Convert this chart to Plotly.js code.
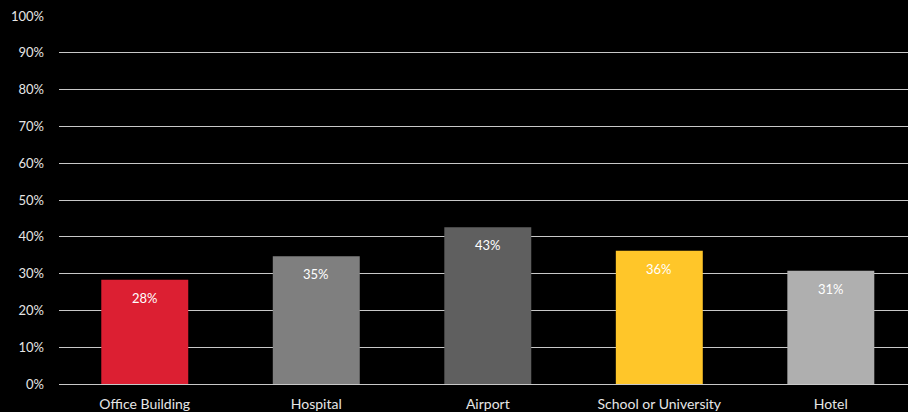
<!DOCTYPE html>
<html>
<head>
<meta charset="utf-8">
<script src="https://cdn.plot.ly/plotly-3.0.1.min.js"></script>
<style>html,body{margin:0;padding:0;background:#000;}#chart{width:908px;height:412px;}</style>
</head>
<body>
<div id="chart"></div>
<script>
const categories = ["Office Building", "Hospital", "Airport", "School or University", "Hotel"];
const values = [0.283, 0.347, 0.426, 0.362, 0.308];
const valueLabels = ["28%", "35%", "43%", "36%", "31%"];
const barColors = ["#DC1F32", "#7F7F7F", "#5F5F5F", "#FFC629", "#AFAFAF"];
const yTickVals = [0, 0.1, 0.2, 0.3, 0.4, 0.5, 0.6, 0.7, 0.8, 0.9, 1.0];
const yTickText = ["0%", "10%", "20%", "30%", "40%", "50%", "60%", "70%", "80%", "90%", "100%"];

const trace = {
  type: "bar",
  x: categories,
  y: values,
  width: 0.507,
  marker: { color: barColors },
  hoverinfo: "none"
};

const annotations = categories.map((c, i) => ({
  x: c, y: values[i], xref: "x", yref: "y",
  text: valueLabels[i],
  showarrow: false,
  yanchor: "middle",
  yshift: -18,
  font: { family: "Lato, 'Open Sans', sans-serif", size: 13, color: "#FFFFFF" }
}));

const layout = {
  width: 908, height: 412,
  paper_bgcolor: "#000000",
  plot_bgcolor: "#000000",
  margin: { l: 59, r: 0, t: 16, b: 28, pad: 0 },
  showlegend: false,
  font: { family: "Lato, 'Open Sans', sans-serif", size: 13, color: "#D9D9D9" },
  annotations: annotations,
  xaxis: {
    type: "category",
    range: [-0.5, 4.45],
    showgrid: false,
    showline: false,
    zeroline: false,
    ticks: "",
    ticklabelstandoff: 10,
    tickfont: { size: 14, color: "#E6E6E6" }
  },
  yaxis: {
    range: [0, 1.0],
    tickvals: yTickVals,
    ticktext: yTickText,
    showgrid: true,
    gridcolor: "#C8C8C8",
    gridwidth: 1,
    zeroline: true,
    zerolinecolor: "#C8C8C8",
    zerolinewidth: 1,
    showline: false,
    ticks: "",
    ticklabelstandoff: 14,
    tickfont: { size: 13, color: "#E6E6E6" }
  }
};

Plotly.newPlot("chart", [trace], layout, { displayModeBar: false, staticPlot: true });
</script>
</body>
</html>
